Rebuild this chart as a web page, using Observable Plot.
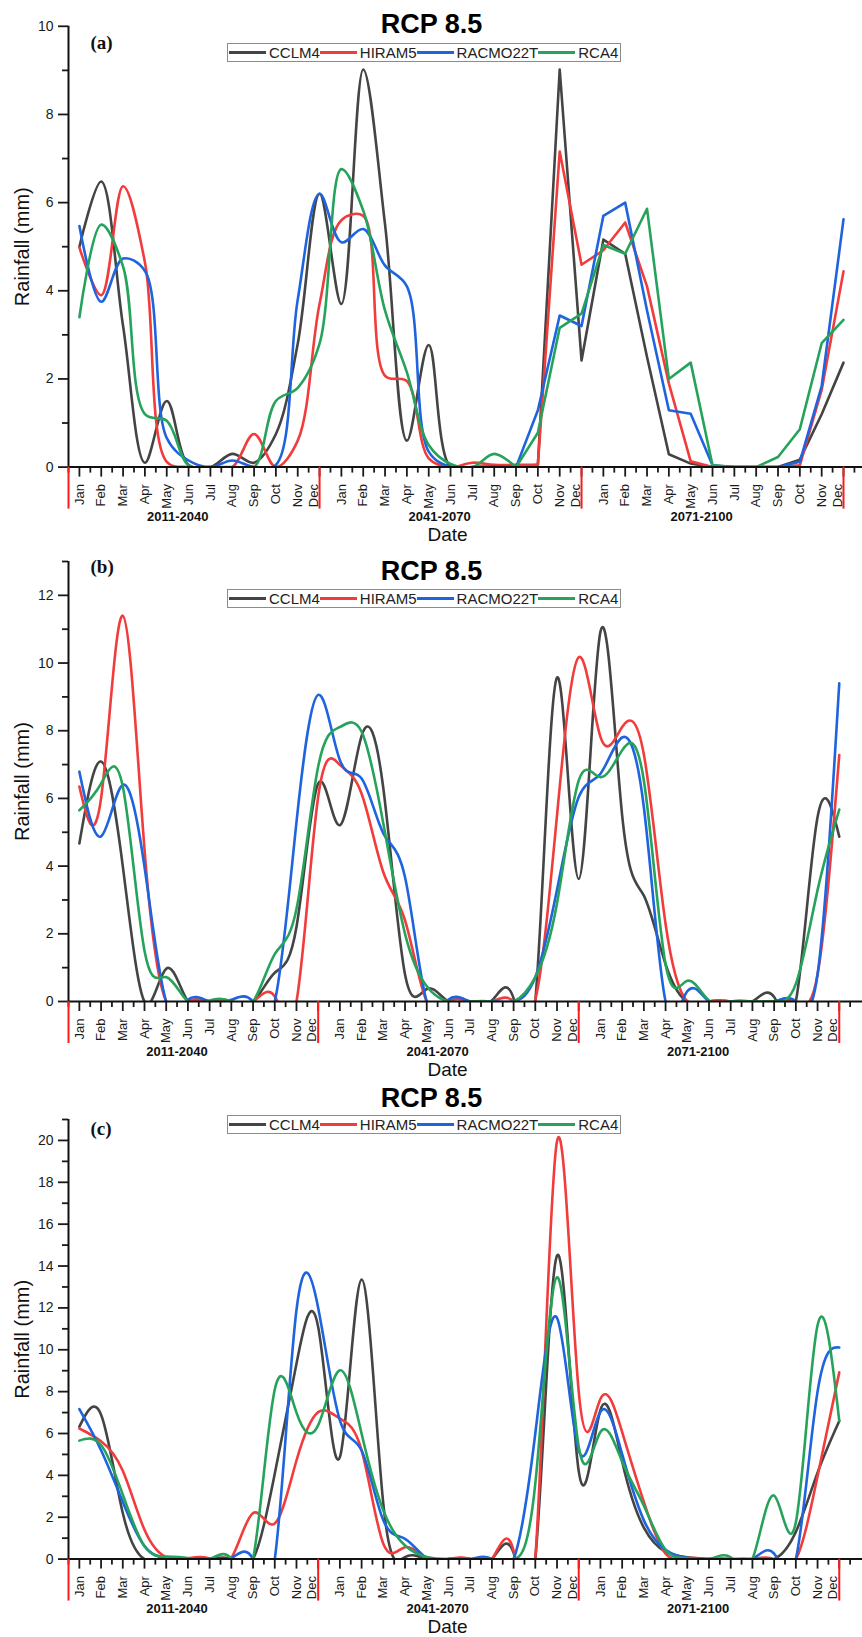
<!DOCTYPE html>
<html>
<head>
<meta charset="utf-8">
<script src="https://cdn.jsdelivr.net/npm/d3@7"></script>
<script src="https://cdn.jsdelivr.net/npm/@observablehq/plot@0.6"></script>
<style>
  body { margin: 0; background: #fff; }
  #root { position: relative; width: 862px; height: 1637px; overflow: hidden; background: #fff; }
  .panel { position: absolute; left: 0; width: 862px; }
  .legend { position: absolute; left: 227px; height: 17px; border: 1.5px solid #8c8c8c; background: #fff;
            display: flex; align-items: center; padding: 0 2px 0 1px; white-space: nowrap;
            font-family: "Liberation Sans", Arial, sans-serif; font-size: 15px; color: #222; }
  .legend .sw { display: inline-block; width: 37px; height: 3px; margin-right: 3px; }
</style>
</head>
<body>
<div id="root"></div>
<script>
// ---------- data ----------
const months = ["Jan","Feb","Mar","Apr","May","Jun","Jul","Aug","Sep","Oct","Nov","Dec"];
const periods = ["2011-2040","2041-2070","2071-2100"];
const models = ["CCLM4","HIRAM5","RACMO22T","RCA4"];
const modelColors = ["#444444","#f23c3c","#1d64de","#26a35b"];
const panelTitle = "RCP 8.5";
const yLabel = "Rainfall (mm)";
const xLabel = "Date";

// Panel (a)
const a_CCLM4    = [5.0, 6.48, 3.2, 0.1, 1.5, 0.05, 0, 0.3, 0.1, 0.75, 2.8, 6.2,   3.7, 9.02, 5.5, 0.6, 2.77, 0, 0, 0, 0, 0.05, 9.02, 2.42,   5.16, 4.84, 2.5, 0.29, 0.08, 0, 0, 0, 0, 0.17, 1.2, 2.37];
const a_HIRAM5   = [4.98, 3.9, 6.37, 4.65, 0.12, 0, 0, 0, 0.75, 0, 0.6, 3.7,   5.6, 5.7, 2.07, 1.95, 0.2, 0, 0.1, 0.05, 0.05, 0.05, 7.16, 4.59,   4.92, 5.55, 4.1, 1.9, 0.13, 0, 0, 0, 0, 0.04, 1.75, 4.44];
const a_RACMO22T = [5.47, 3.75, 4.73, 4.45, 0.66, 0.15, 0, 0.15, 0, 0.05, 3.8, 6.2,   5.1, 5.4, 4.57, 4.1, 0.35, 0, 0, 0.02, 0, 1.29, 3.44, 3.2,   5.7, 6.0, 3.55, 1.29, 1.21, 0.04, 0, 0, 0, 0.12, 1.84, 5.62];
const a_RCA4     = [3.4, 5.5, 4.55, 1.2, 1.05, 0.04, 0, 0, 0, 1.5, 1.8, 2.8,   6.76, 5.82, 3.55, 2.15, 0.5, 0.07, 0, 0.3, 0, 0.78, 3.16, 3.48,   5.04, 4.84, 5.86, 2.0, 2.37, 0.04, 0, 0, 0.23, 0.86, 2.81, 3.34];

// Panel (b)
const b_CCLM4    = [4.67, 7.09, 4.0, 0, 0.97, 0, 0, 0, 0, 0.85, 2.2, 6.44,   5.21, 7.85, 6.3, 0.8, 0.37, 0, 0, 0.03, 0.09, 0, 9.57, 3.62,   10.92, 5.5, 3.13, 1.1, 0, 0, 0, 0, 0.13, 0, 5.45, 4.87];
const b_HIRAM5   = [6.35, 6.0, 11.4, 4.5, 0, 0, 0, 0, 0, 0.15, 0, 6.05,   6.99, 6.14, 3.82, 2.4, 0, 0, 0, 0, 0, 0.05, 5.5, 10.17,   7.82, 8.11, 7.3, 2.29, 0, 0, 0, 0, 0, 0, 0.8, 7.28];
const b_RACMO22T = [6.79, 4.88, 6.4, 3.98, 0, 0.05, 0, 0.05, 0, 0, 5.3, 9.06,   7.13, 6.59, 4.97, 3.67, 0, 0.05, 0, 0, 0, 0.72, 3.3, 6.04,   6.73, 7.8, 5.74, 0, 0.3, 0, 0, 0, 0, 0, 0.8, 9.4];
const b_RCA4     = [5.65, 6.44, 6.35, 1.5, 0.72, 0, 0.03, 0, 0, 1.4, 2.73, 6.94,   8.11, 7.97, 5.26, 2.0, 0.45, 0, 0, 0, 0, 0.72, 2.9, 6.53,   6.63, 7.42, 6.53, 1.1, 0.61, 0.03, 0, 0, 0, 0.52, 3.29, 5.67];

// Panel (c)
const c_CCLM4    = [6.33, 6.9, 2.2, 0, 0, 0, 0, 0, 0, 4.08, 9.33, 11.09,   4.87, 13.35, 2.64, 0.1, 0, 0, 0, 0, 0.3, 0, 14.5, 4.2,   7.12, 4.66, 1.5, 0.35, 0.09, 0, 0, 0, 0, 1.3, 4.13, 6.6];
const c_HIRAM5   = [6.24, 5.63, 4.22, 1.4, 0.09, 0.03, 0.03, 0.05, 2.2, 1.7, 4.71, 7.02,   6.71, 5.19, 0.73, 0.57, 0, 0, 0, 0, 0.4, 0, 19.96, 8.0,   7.65, 6.07, 2.73, 0.26, 0.05, 0, 0, 0, 0, 0, 3.96, 8.92];
const c_RACMO22T = [7.16, 5.2, 2.73, 0.62, 0.05, 0, 0, 0.05, 0, 0, 11.9, 12.0,   6.63, 5.19, 1.85, 0.97, 0.05, 0, 0, 0, 0, 6.0, 11.52, 5.19,   7.04, 5.01, 1.85, 0.44, 0.05, 0, 0, 0, 0.26, 0, 8.0, 10.11];
const c_RCA4     = [5.66, 5.45, 3.08, 0.62, 0.12, 0.05, 0, 0, 0, 8.1, 7.0, 6.4,   9.02, 5.99, 2.32, 0.65, 0.1, 0, 0, 0, 0, 3.6, 13.46, 5.37,   6.07, 4.66, 2.55, 0.44, 0.05, 0, 0.09, 0, 3.03, 1.76, 11.17, 6.6];

// ---------- layout ----------
const FONT = "'Liberation Sans', Arial, sans-serif";
const panels = [
  {tag: "(a)", top: 0,    height: 545, mt: 25.8, mb: 78.4, yMax: 10, xMax: 35.87,
   curves: [{from: 0, to: 20, curve: "catmull-rom"}, {from: 20, to: 35, curve: "linear"}],
   series: [a_CCLM4, a_HIRAM5, a_RACMO22T, a_RCA4], tagDy: 22.7, titleDy: 6.9, legendTop: 42.5},
  {tag: "(b)", top: 545,  height: 535, mt: 16,   mb: 79,   yMax: 13, xMax: 36.07,
   curves: [{from: 0, to: 35, curve: "natural"}],
   series: [b_CCLM4, b_HIRAM5, b_RACMO22T, b_RCA4], tagDy: 11, titleDy: 18, legendTop: 589},
  {tag: "(c)", top: 1080, height: 557, mt: 39,   mb: 78.4, yMax: 21, xMax: 36.07,
   curves: [{from: 0, to: 35, curve: "natural"}],
   series: [c_CCLM4, c_HIRAM5, c_RACMO22T, c_RCA4], tagDy: 15, titleDy: -13, legendTop: 1115}
];

const root = document.getElementById("root");
const W = 862, ML = 68, MR = 0;

panels.forEach(p => {
  const rows = models.flatMap((m, k) => p.series[k].map((v, i) => ({i, v, model: m})));
  const monthRows = d3.range(36).map(i => ({i, label: months[i % 12]}));
  const periodRows = periods.map((label, k) => ({x: 4.5 + 12 * k, label}));
  const yMajor = d3.range(0, p.yMax + 0.001, 2);
  const yMinor = d3.range(1, p.yMax + 0.001, 2);
  const xMajor = d3.range(0, 36);
  const xMinor = d3.range(-0.5, p.xMax, 1);
  const plotH = p.height - p.mt - p.mb;
  const pxPerUnit = plotH / p.yMax;
  const redLen = 42 / pxPerUnit;
  const frameCenter = (ML + W - MR) / 2;

  const lineMarks = p.curves.map(c =>
    Plot.line(rows.filter(d => d.i >= c.from && d.i <= c.to),
      {x: "i", y: "v", stroke: "model", z: "model", curve: c.curve, strokeWidth: 2.6, clip: true}));

  const chart = Plot.plot({
    width: W, height: p.height,
    marginLeft: ML, marginRight: MR, marginTop: p.mt, marginBottom: p.mb,
    style: {fontFamily: FONT, fontSize: "14px", color: "#1a1a1a", background: "#fff", overflow: "visible"},
    x: {domain: [-0.5, p.xMax]},
    y: {domain: [0, p.yMax]},
    color: {domain: models, range: modelColors},
    marks: [
      ...lineMarks,
      Plot.axisY({ticks: yMajor, tickSize: 10, tickPadding: 5, fontSize: 14, strokeWidth: 1.8, label: null}),
      Plot.axisY({ticks: yMinor, tickSize: 6, tickFormat: () => "", strokeWidth: 1.8, label: null}),
      Plot.axisX({ticks: xMajor, tickSize: 10, tickFormat: () => "", strokeWidth: 1.8, label: null}),
      Plot.axisX({ticks: xMinor, tickSize: 6, tickFormat: () => "", strokeWidth: 1.8, label: null}),
      Plot.ruleX([-0.5], {stroke: "#111", strokeWidth: 2}),
      Plot.ruleY([0], {stroke: "#111", strokeWidth: 2}),
      Plot.ruleX([-0.5, 11, 23, 35], {x: d => d, y1: 0, y2: -redLen, stroke: "#ff1a1a", strokeWidth: 2}),
      Plot.text(monthRows.filter(d => d.i % 12 !== 11), {x: "i", text: "label", frameAnchor: "bottom", dy: 17,
        rotate: -90, textAnchor: "end", lineAnchor: "middle", fontSize: 13, fill: "#1a1a1a"}),
      Plot.text(monthRows.filter(d => d.i % 12 === 11), {x: "i", text: "label", frameAnchor: "bottom", dy: 17, dx: -6,
        rotate: -90, textAnchor: "end", lineAnchor: "middle", fontSize: 13, fill: "#1a1a1a"}),
      Plot.text(periodRows, {x: "x", text: "label", frameAnchor: "bottom", dy: 54.3, lineAnchor: "bottom",
        fontSize: 13, fontWeight: "bold", fill: "#111"}),
      Plot.text([xLabel], {text: d => d, frameAnchor: "bottom", dx: 447 - frameCenter, dy: 74.3, lineAnchor: "bottom",
        fontSize: 19, fill: "#111"}),
      Plot.text([yLabel], {text: d => d, frameAnchor: "left", dx: 28 - ML, rotate: -90, lineAnchor: "bottom",
        textAnchor: "middle", fontSize: 20, fill: "#111"}),
      Plot.text([panelTitle], {text: d => d, frameAnchor: "top", dx: 431 - frameCenter, dy: p.titleDy, lineAnchor: "bottom",
        fontSize: 27, fontWeight: "bold", fill: "#000"}),
      Plot.text([p.tag], {text: d => d, frameAnchor: "top-left", dx: 90 - ML, dy: p.tagDy, lineAnchor: "bottom",
        textAnchor: "start", fontSize: 19, fontWeight: "bold", fontFamily: "'Liberation Serif', 'Times New Roman', serif", fill: "#111"})
    ]
  });
  const holder = document.createElement("div");
  holder.className = "panel";
  holder.style.top = p.top + "px";
  holder.style.height = p.height + "px";
  holder.appendChild(chart);
  root.appendChild(holder);

  const lg = document.createElement("div");
  lg.className = "legend";
  lg.style.top = p.legendTop + "px";
  models.forEach((m, k) => {
    const sw = document.createElement("span");
    sw.className = "sw";
    sw.style.background = modelColors[k];
    const tx = document.createElement("span");
    tx.textContent = m;
    lg.appendChild(sw);
    lg.appendChild(tx);
  });
  root.appendChild(lg);
});
</script>
</body>
</html>
